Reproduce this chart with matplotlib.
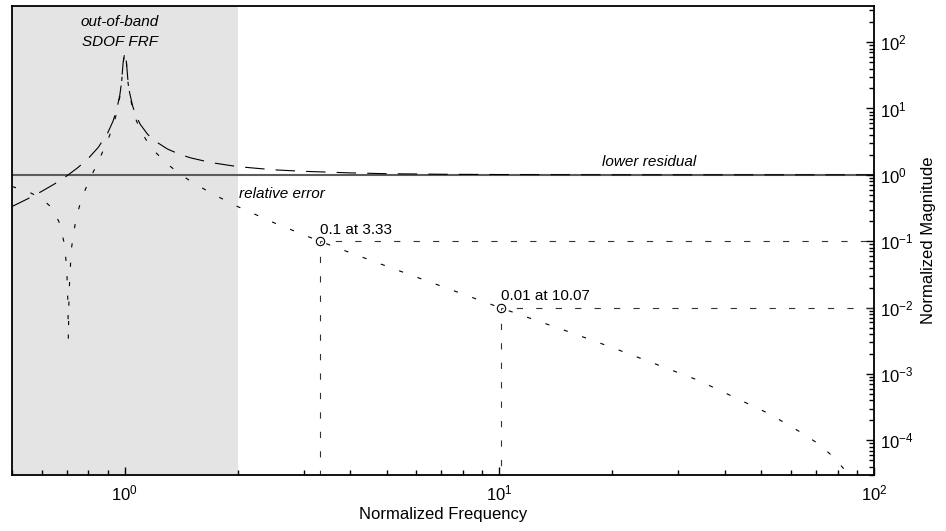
import numpy as np
import matplotlib
matplotlib.use('Agg')
import matplotlib.pyplot as plt
from matplotlib.ticker import LogLocator, FixedLocator, NullFormatter

# values (normalized frequency r, magnitude)
frf_freq = [0.5, 0.55, 0.6, 0.65, 0.7, 0.75, 0.8, 0.85, 0.9, 0.93, 0.95, 0.97,
            0.98, 0.99, 1.0, 1.01, 1.02, 1.03, 1.05, 1.07, 1.1, 1.15, 1.2, 1.3,
            1.4, 1.5, 1.7, 2.0, 2.5, 3.0, 4.0, 5.0, 7.0, 10.0, 20.0, 100.0]
frf_mag = [0.333, 0.434, 0.563, 0.732, 0.961, 1.29, 1.78, 2.60, 4.26, 6.40, 9.26, 15.9,
           24.3, 49.3, 70.0, 50.8, 25.8, 17.4, 10.8, 7.9, 5.76, 4.10, 3.27, 2.45,
           2.04, 1.80, 1.53, 1.33, 1.19, 1.13, 1.07, 1.04, 1.02, 1.01, 1.0, 1.0]

err_freq = [0.5, 0.55, 0.6, 0.63, 0.65, 0.67, 0.69, 0.70, 0.705, 0.707, 0.71, 0.72,
            0.74, 0.76, 0.78, 0.8, 0.85, 0.9, 0.93, 0.95, 0.97, 0.98, 0.99, 1.0,
            1.01, 1.02, 1.03, 1.05, 1.07, 1.1, 1.15, 1.2, 1.3, 1.4, 1.5, 1.7,
            2.0, 2.5, 3.0, 3.33, 4.0, 5.0, 7.0, 10.07, 15.0, 20.0, 34.0, 52.6,
            64.8, 71.6, 78.2, 84.6, 90.0]
err_mag = [0.667, 0.566, 0.438, 0.342, 0.268, 0.186, 0.091, 0.039, 0.012, 0.0033, 0.0165, 0.076,
           0.21, 0.367, 0.554, 0.778, 1.60, 3.26, 5.40, 8.26, 14.9, 23.3, 48.3, 70.0,
           49.8, 24.8, 16.4, 9.76, 6.90, 4.76, 3.10, 2.27, 1.45, 1.04, 0.80, 0.53,
           0.333, 0.19, 0.125, 0.099, 0.067, 0.042, 0.021, 0.0099, 0.0045, 0.0025, 0.0008, 0.00025,
           0.000125, 0.000086, 0.000055, 0.000033, 0.00002]

pick_freq = [3.33, 10.07]
pick_err = [0.1, 0.01]
pick_text = ['0.1 at 3.33', '0.01 at 10.07']

x_major = [1, 10, 100]
y_major = [1e-4, 1e-3, 1e-2, 1e-1, 1, 10, 100]

band_lo, band_hi = 0.5, 2.0
residual_level = 1.0
x_lim = (0.5, 100.0)
y_lim = (3e-5, 350.0)

plt.rcParams['font.family'] = ['Liberation Sans', 'DejaVu Sans']
plt.rcParams['mathtext.fontset'] = 'custom'
plt.rcParams['mathtext.rm'] = 'Liberation Sans'
plt.rcParams['lines.scale_dashes'] = False

fig = plt.figure(figsize=(9.46, 5.31), dpi=100)
ax = fig.add_axes([12/946, 56/531, 862/946, 469/531])
ax.set_xscale('log')
ax.set_yscale('log')

# out-of-band region
ax.axvspan(band_lo, band_hi, color='#e4e4e4', lw=0, zorder=0)
ax.axhline(residual_level, color='#5c5c5c', lw=1.5, zorder=1)

ax.plot(frf_freq, frf_mag, color='k', lw=0.8, ls=(0, (14, 8)), zorder=2)
ax.plot(err_freq, err_mag, color='k', lw=0.8, ls=(0, (3, 11)), zorder=2)

for f, e, txt in zip(pick_freq, pick_err, pick_text):
    ax.plot([f, f], [e, y_lim[0]], color='#333333', lw=0.8, ls=(3, (4.5, 9.5)), zorder=2)
    ax.plot([f, x_lim[1]], [e, e], color='#333333', lw=0.8, ls=(3, (4.5, 9.5)), zorder=2)
    ax.plot(f, e, 'o', mfc='none', mec='k', ms=6, mew=0.8, zorder=3)
    ax.annotate(txt, (f, e), xytext=(0, 8), textcoords='offset points',
                fontsize=11, ha='left', va='center')

ax.text(0.97, 200, 'out-of-band', fontsize=11, style='italic', ha='center', va='center')
ax.text(0.97, 100, 'SDOF FRF', fontsize=11, style='italic', ha='center', va='center')
ax.text(18.8, 1.56, 'lower residual', fontsize=11, style='italic', ha='left', va='center')
ax.text(2.02, 0.51, 'relative error', fontsize=11, style='italic', ha='left', va='center')

ax.set_xlim(*x_lim)
ax.set_ylim(*y_lim)

ax.yaxis.tick_right()
ax.yaxis.set_label_position('right')
ax.xaxis.set_major_locator(FixedLocator(x_major))
ax.yaxis.set_major_locator(FixedLocator(y_major))
for axis in (ax.xaxis, ax.yaxis):
    axis.set_minor_locator(LogLocator(base=10, subs=np.arange(2, 10), numticks=200))
    axis.set_minor_formatter(NullFormatter())
ax.tick_params(which='both', direction='in', labelsize=12, width=1)
ax.tick_params(which='major', length=6)
ax.tick_params(which='minor', length=3.5)
ax.tick_params(axis='x', pad=6)
ax.tick_params(axis='y', pad=4)

for sp in ax.spines.values():
    sp.set_linewidth(1.3)

ax.set_xlabel('Normalized Frequency', fontsize=12, labelpad=3)
ax.set_ylabel('Normalized Magnitude', fontsize=12, labelpad=6)

fig.savefig('out.png', dpi=100)
